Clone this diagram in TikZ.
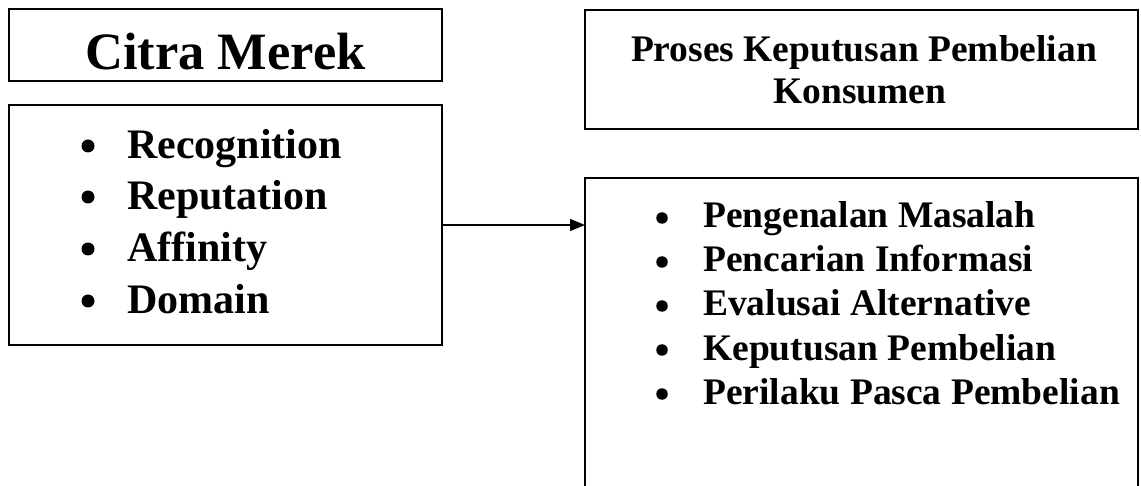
\documentclass[tikz,border=0pt]{standalone}
\usepackage{fontspec}
\setmainfont{Liberation Serif}
\usetikzlibrary{arrows.meta}

\begin{document}
\begin{tikzpicture}[x=1pt,y=-1pt,
  frame/.style={draw=black,line width=1.8pt},
  bigtitle/.style={font=\fontsize{52.5}{60}\selectfont\bfseries,inner sep=0pt,anchor=base},
  subtitle/.style={font=\fontsize{37.5}{42}\selectfont\bfseries,inner sep=0pt,anchor=base},
  leftitem/.style={font=\fontsize{42}{48}\selectfont\bfseries,inner sep=0pt,anchor=base west},
  rightitem/.style={font=\fontsize{37.5}{42}\selectfont\bfseries,inner sep=0pt,anchor=base west},
  dotL/.style={circle,fill=black,inner sep=0pt,minimum size=13pt},
  dotR/.style={circle,fill=black,inner sep=0pt,minimum size=11.5pt},
  link/.style={line width=1.4pt,-{Triangle[length=15pt,width=12pt]}}]
  \useasboundingbox (0,0) rectangle (1141,486);
  \clip (0,0) rectangle (1141,486);

  % boxes
  \draw[frame] (9,9) rectangle (442,81);
  \draw[frame] (9,105) rectangle (442,345);
  \draw[frame] (585,10) rectangle (1138,129);
  \draw[frame] (585,178) rectangle (1138,520);

  % left side
  \node[bigtitle] (citra) at (225.5,70) {Citra Merek};

  \node[dotL] (b1) at (88,146) {};
  \node[leftitem] (l1) at (127,159) {Recognition};
  \node[dotL] (b2) at (88,197) {};
  \node[leftitem] (l2) at (127,210) {Reputation};
  \node[dotL] (b3) at (88,249) {};
  \node[leftitem] (l3) at (127,262) {Affinity};
  \node[dotL] (b4) at (88,301) {};
  \node[leftitem] (l4) at (127,314) {Domain};

  % right side
  \node[subtitle] (t1) at (864,62) {Proses Keputusan Pembelian};
  \node[subtitle] (t2) at (860,104) {Konsumen};

  \node[dotR] (r1d) at (662,218) {};
  \node[rightitem] (r1) at (703,228) {Pengenalan Masalah};
  \node[dotR] (r2d) at (662,262) {};
  \node[rightitem] (r2) at (703,272) {Pencarian Informasi};
  \node[dotR] (r3d) at (662,306) {};
  \node[rightitem] (r3) at (703,316) {Evalusai Alternative};
  \node[dotR] (r4d) at (662,350) {};
  \node[rightitem] (r4) at (703,360) {Keputusan Pembelian};
  \node[dotR] (r5d) at (662,394) {};
  \node[rightitem] (r5) at (703,404) {Perilaku Pasca Pembelian};

  % connector between the two list boxes
  \coordinate (src) at (442,225);
  \coordinate (dst) at (585,225);
  \draw[link] (src) -- (dst);
\end{tikzpicture}
\end{document}
